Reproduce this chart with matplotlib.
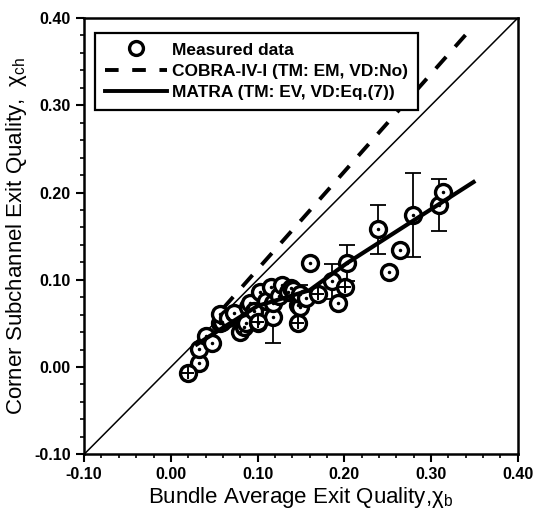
import matplotlib.pyplot as plt
import numpy as np
from matplotlib.lines import Line2D

plt.rcParams['font.family'] = ['Liberation Sans', 'DejaVu Sans']
plt.rcParams['mathtext.default'] = 'regular'

# measured data (circle with centre dot)
meas_x = [0.032, 0.032, 0.041, 0.047, 0.057, 0.059, 0.057, 0.066, 0.073, 0.080,
          0.084, 0.087, 0.089, 0.091, 0.096, 0.101, 0.103, 0.110, 0.116, 0.118,
          0.118, 0.125, 0.128, 0.135, 0.139, 0.141, 0.147, 0.149, 0.149, 0.156,
          0.160, 0.186, 0.193, 0.203, 0.239, 0.251, 0.264, 0.279, 0.309, 0.314]
meas_y = [0.004, 0.021, 0.035, 0.027, 0.050, 0.052, 0.061, 0.056, 0.062, 0.040,
          0.046, 0.050, 0.069, 0.073, 0.064, 0.050, 0.086, 0.076, 0.092, 0.057,
          0.073, 0.081, 0.094, 0.086, 0.090, 0.088, 0.071, 0.069, 0.084, 0.079,
          0.119, 0.098, 0.073, 0.119, 0.158, 0.109, 0.134, 0.174, 0.186, 0.201]
# measured data drawn with a cross inside
plus_x = [0.020, 0.101, 0.147, 0.170, 0.201]
plus_y = [-0.007, 0.052, 0.050, 0.084, 0.092]

# error bars
err_x = [0.118, 0.149, 0.186, 0.203, 0.239, 0.279, 0.309]
err_y = [0.057, 0.084, 0.098, 0.119, 0.158, 0.174, 0.186]
err_v = [0.029, 0.010, 0.020, 0.021, 0.028, 0.048, 0.030]

# predictions
cobra_x = [0.06, 0.10, 0.20, 0.30, 0.341]
cobra_y = [0.067, 0.112, 0.224, 0.336, 0.382]
matra_x = [0.03, 0.06, 0.10, 0.16, 0.203, 0.349]
matra_y = [0.026, 0.045, 0.070, 0.088, 0.119, 0.212]

fig = plt.figure(figsize=(5.36, 5.15), dpi=100)
ax = fig.add_axes([0.157, 0.118, 0.809, 0.847])

ax.plot([-0.1, 0.4], [-0.1, 0.4], color='black', lw=1.1, zorder=1)
ax.plot(cobra_x, cobra_y, color='black', lw=2.8, ls=(0, (4, 3.5)), zorder=5)

ax.errorbar(err_x, err_y, yerr=err_v, fmt='none', ecolor='black', elinewidth=1.3,
            capsize=5.5, capthick=1.3, zorder=2)

ms = 11.5
ax.plot(meas_x, meas_y, 'o', ms=ms, mfc='white', mec='black', mew=2.4, zorder=3)
ax.plot(meas_x, meas_y, '.', ms=3, color='black', zorder=4)
ax.plot(plus_x, plus_y, 'o', ms=ms, mfc='white', mec='black', mew=2.4, zorder=3)
ax.plot(plus_x, plus_y, '+', ms=8, mew=1.4, color='black', zorder=4)

ax.plot(matra_x, matra_y, color='black', lw=3, zorder=6)

ax.set_xlim(-0.10, 0.40)
ax.set_ylim(-0.10, 0.40)
ticks = np.arange(-0.10, 0.41, 0.10)
ax.set_xticks(ticks)
ax.set_yticks(ticks)
ax.set_xticks(np.arange(-0.10, 0.401, 0.02), minor=True)
ax.set_yticks(np.arange(-0.10, 0.401, 0.02), minor=True)
ax.set_xticklabels([f'{t:.2f}' for t in ticks], fontweight='bold', fontsize=11.5)
ax.set_yticklabels([f'{t:.2f}' for t in ticks], fontweight='bold', fontsize=11.5)
ax.tick_params(which='major', direction='out', length=6, width=1.5)
ax.tick_params(which='minor', direction='out', length=3, width=1.2)
for s in ax.spines.values():
    s.set_linewidth(1.8)

ax.set_xlabel(r'Bundle Average Exit Quality,$\chi_b$', fontsize=16, labelpad=2)
ax.set_ylabel(r'Corner Subchannel Exit Quality,  $\chi_{ch}$', fontsize=16, labelpad=4)

handles = [
    Line2D([], [], marker='o', ls='none', ms=10, mfc='white', mec='black', mew=2.4),
    Line2D([], [], color='black', lw=2.8, ls=(0, (3.5, 3.5))),
    Line2D([], [], color='black', lw=2.8),
]
labels = ['Measured data', 'COBRA-IV-I (TM: EM, VD:No)', 'MATRA (TM: EV, VD:Eq.(7))']
leg = ax.legend(handles, labels, loc='upper left', bbox_to_anchor=(0.025, 0.966),
                frameon=True, fancybox=False, edgecolor='black', framealpha=1,
                borderaxespad=0, handlelength=3.6, handletextpad=0.3,
                labelspacing=0.35, borderpad=0.55,
                prop={'weight': 'bold', 'size': 12.5})
leg.get_frame().set_linewidth(1.6)

fig.savefig('out.png', dpi=100)
